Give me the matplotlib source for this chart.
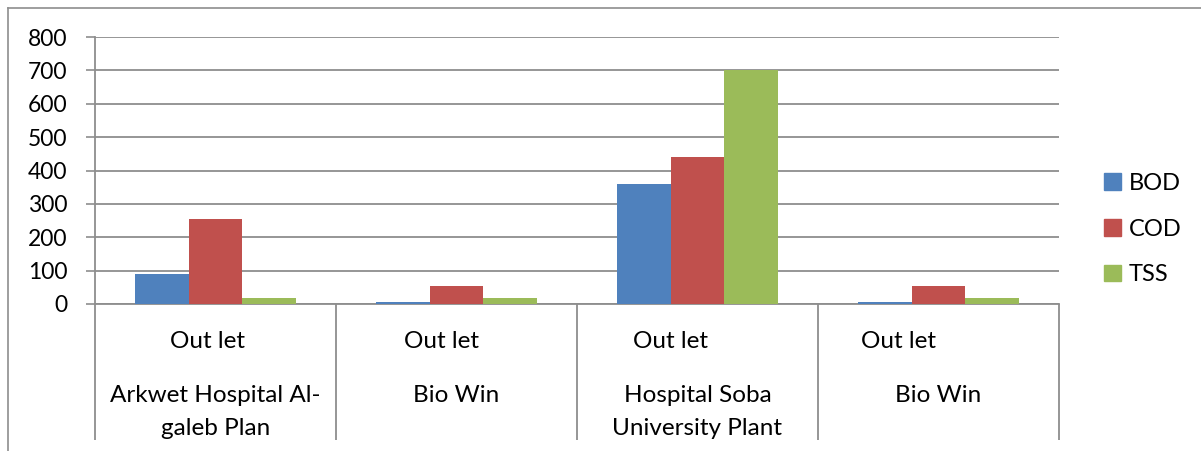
import numpy as np
from matplotlib import pyplot as plt
from matplotlib.patches import Patch
from matplotlib.lines import Line2D

### Data
sites = ['Arkwet Hospital Al-\ngaleb Plan', 'Bio Win', 'Hospital Soba\nUniversity Plant', 'Bio Win']
point = 'Out let'
bod = [91, 7, 360, 7]
cod = [255, 55, 441, 55]
tss = [19, 18, 700, 19]
series = ['BOD', 'COD', 'TSS']
colors = ['#4F81BD', '#C0504D', '#9BBB59']
yticks = [0, 100, 200, 300, 400, 500, 600, 700, 800]

W, H = 1201, 451
plt.rcParams['font.family'] = ['Lato', 'DejaVu Sans']
fig = plt.figure(figsize=(W / 100, H / 100), dpi=100)

### plot area in pixels
left, right, top, bottom = 95, 1059, 37, 304
ax = fig.add_axes([left / W, 1 - bottom / H, (right - left) / W, (bottom - top) / H])

grid_c = '#8e8e8e'
x = np.arange(len(sites))
bw = 1 / 4.5
for i, (vals, c) in enumerate(zip([bod, cod, tss], colors)):
    ax.bar(x + (i - 1) * bw, vals, bw, color=c, zorder=3)

ax.set_xlim(-0.5, len(sites) - 0.5)
ax.set_ylim(0, 800)
ax.set_yticks(yticks)
ax.set_yticklabels([str(v) for v in yticks], fontsize=16.5)
ax.tick_params(axis='y', length=6.5, width=1.2, color=grid_c, pad=13.5)
ax.set_xticks([])
ax.yaxis.grid(True, color=grid_c, linewidth=1.3)
ax.set_axisbelow(True)
for s in ['top', 'right']:
    ax.spines[s].set_visible(False)
for s in ['left', 'bottom']:
    ax.spines[s].set_color(grid_c)
    ax.spines[s].set_linewidth(1.3)

### category separators below the axis
tr = ax.get_xaxis_transform()
sep_bottom = (bottom - 440) / (bottom - top)
ax.vlines(np.arange(len(sites) + 1) - 0.5, sep_bottom, 0, transform=tr,
          color=grid_c, linewidth=1.3, clip_on=False)

### category labels
outlet_shift = [-0.035, -0.064, -0.114, -0.168]
y_out = (bottom - 342) / (bottom - top)
y_site = (bottom - 385) / (bottom - top)
for i, name in enumerate(sites):
    ax.text(i + outlet_shift[i], y_out, point, transform=tr, ha='center', va='center', fontsize=17.5)
    ax.text(i, y_site, name, transform=tr, ha='center', va='top', fontsize=17.5, linespacing=1.7)

### legend
handles = [Patch(color=c, label=s) for s, c in zip(series, colors)]
fig.legend(handles=handles, loc='center left', bbox_to_anchor=(1104 / W, 1 - 229 / H),
           frameon=False, fontsize=17, handlelength=0.7, handleheight=0.7,
           handletextpad=0.35, labelspacing=1.05, borderpad=0, borderaxespad=0)

### outer frame
fig.add_artist(Line2D([7.5 / W, 7.5 / W], [0, 1 - 7.5 / H], transform=fig.transFigure, color=grid_c, linewidth=1.2))
fig.add_artist(Line2D([7.5 / W, 1], [1 - 7.5 / H, 1 - 7.5 / H], transform=fig.transFigure, color=grid_c, linewidth=1.2))

fig.savefig('out.png', dpi=100)
